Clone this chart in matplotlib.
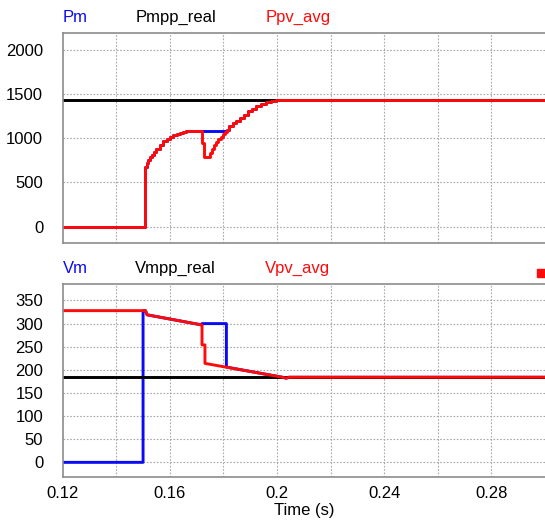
import matplotlib.pyplot as plt
from matplotlib.patches import Rectangle

plt.rcParams['font.family'] = ['Liberation Sans', 'DejaVu Sans']

# --- top panel: power (sampled averages, drawn as steps) ---
p_time = [0.12, 0.1509, 0.1513, 0.1519, 0.1526, 0.1532, 0.1540, 0.1550, 0.1562,
          0.1575, 0.1588, 0.1600, 0.1612, 0.1625, 0.1637, 0.1649, 0.1662, 0.1674,
          0.1690, 0.1721, 0.1729, 0.1749, 0.1757, 0.1765, 0.1773, 0.1781, 0.1789,
          0.1797, 0.1805, 0.1812, 0.1822, 0.1835, 0.1847, 0.1860, 0.1875, 0.1891,
          0.1907, 0.1923, 0.1941, 0.1960, 0.1978, 0.1997, 0.30]
ppv_avg = [0, 673, 720, 756, 790, 813, 845, 877, 920,
           964, 995, 1020, 1038, 1051, 1064, 1074, 1080, 1085,
           1088, 945, 794, 839, 880, 920, 955, 990, 1020,
           1045, 1070, 1095, 1135, 1172, 1200, 1229, 1268, 1304,
           1335, 1361, 1388, 1410, 1424, 1434, 1434]
pm = [0, 673, 720, 756, 790, 813, 845, 877, 920,
      964, 995, 1020, 1038, 1051, 1064, 1074, 1080, 1085,
      1088, 1088, 1088, 1088, 1088, 1088, 1088, 1088, 1088,
      1088, 1088, 1095, 1135, 1172, 1200, 1229, 1268, 1304,
      1335, 1361, 1388, 1410, 1424, 1434, 1434]
pmpp_real = 1434

# --- bottom panel: voltage ---
vpv_time = [0.12, 0.1509, 0.1515, 0.1720, 0.1720, 0.1731, 0.1731, 0.2020, 0.2034, 0.2045, 0.30]
vpv_avg = [328, 328, 319, 297, 254, 254, 214, 184, 182, 184, 184]
vm_time = [0.12, 0.1500, 0.1500, 0.1509, 0.1515, 0.1720, 0.1720, 0.1811, 0.1811, 0.2020, 0.2034, 0.2045, 0.30]
vm = [0, 0, 328, 328, 319, 297, 300, 300, 206, 184, 182, 184, 184]
vmpp_real = 184

x_ticks = [0.12, 0.16, 0.2, 0.24, 0.28]
x_labels = ['0.12', '0.16', '0.2', '0.24', '0.28']
x_grid = [0.14, 0.16, 0.18, 0.2, 0.22, 0.24, 0.26, 0.28]
p_ticks = [0, 500, 1000, 1500, 2000]
v_ticks = [0, 50, 100, 150, 200, 250, 300, 350]

blue = '#0a0af5'
red = '#ff0a0a'
grid_col = '#a8a8a8'
spine_col = '#8c8c8c'
lw = 2.1

fig = plt.figure(figsize=(5.45, 5.2), dpi=100)
ax1 = fig.add_axes([0.115, 0.532, 0.885, 0.404])
ax2 = fig.add_axes([0.115, 0.0833, 0.885, 0.370])


def style(ax, yticks, ylim):
    ax.set_xlim(0.12, 0.30)
    ax.set_ylim(*ylim)
    ax.set_yticks(yticks)
    for x in x_grid:
        ax.axvline(x, color=grid_col, lw=0.8, ls=(0, (1.5, 1.5)), zorder=0)
    for y in yticks:
        ax.axhline(y, color=grid_col, lw=0.8, ls=(0, (1.5, 1.5)), zorder=0)
    for s in ['left', 'top', 'bottom']:
        ax.spines[s].set_color(spine_col)
        ax.spines[s].set_linewidth(1.2)
    ax.spines['right'].set_visible(False)
    ax.tick_params(axis='both', which='both', length=0, labelsize=12)
    ax.tick_params(axis='y', pad=14)


style(ax1, p_ticks, (-190, 2190))
ax1.set_xticks(x_ticks)
ax1.set_xticklabels([])
ax1.step(p_time, pm, where='post', color=blue, lw=lw)
ax1.axhline(pmpp_real, color='black', lw=lw)
ax1.step(p_time, ppv_avg, where='post', color=red, lw=lw)

style(ax2, v_ticks, (-31, 385))
ax2.set_xticks(x_ticks)
ax2.set_xticklabels(x_labels)
ax2.tick_params(axis='x', pad=7)
ax2.plot(vm_time, vm, color=blue, lw=lw)
ax2.axhline(vmpp_real, color='black', lw=lw)
ax2.plot(vpv_time, vpv_avg, color=red, lw=lw)
ax2.set_xlabel('Time (s)', fontsize=12, labelpad=1)

# legend labels above each panel
fig.text(0.115, 0.958, 'Pm', color=blue, fontsize=12)
fig.text(0.249, 0.958, 'Pmpp_real', color='black', fontsize=12)
fig.text(0.488, 0.958, 'Ppv_avg', color=red, fontsize=12)
fig.text(0.115, 0.4744, 'Vm', color=blue, fontsize=12)
fig.text(0.248, 0.4744, 'Vmpp_real', color='black', fontsize=12)
fig.text(0.486, 0.4744, 'Vpv_avg', color=red, fontsize=12)
fig.patches.append(Rectangle((0.985, 0.467), 0.02, 0.016, transform=fig.transFigure,
                             color=red, figure=fig))

fig.savefig('out.png', dpi=100)
